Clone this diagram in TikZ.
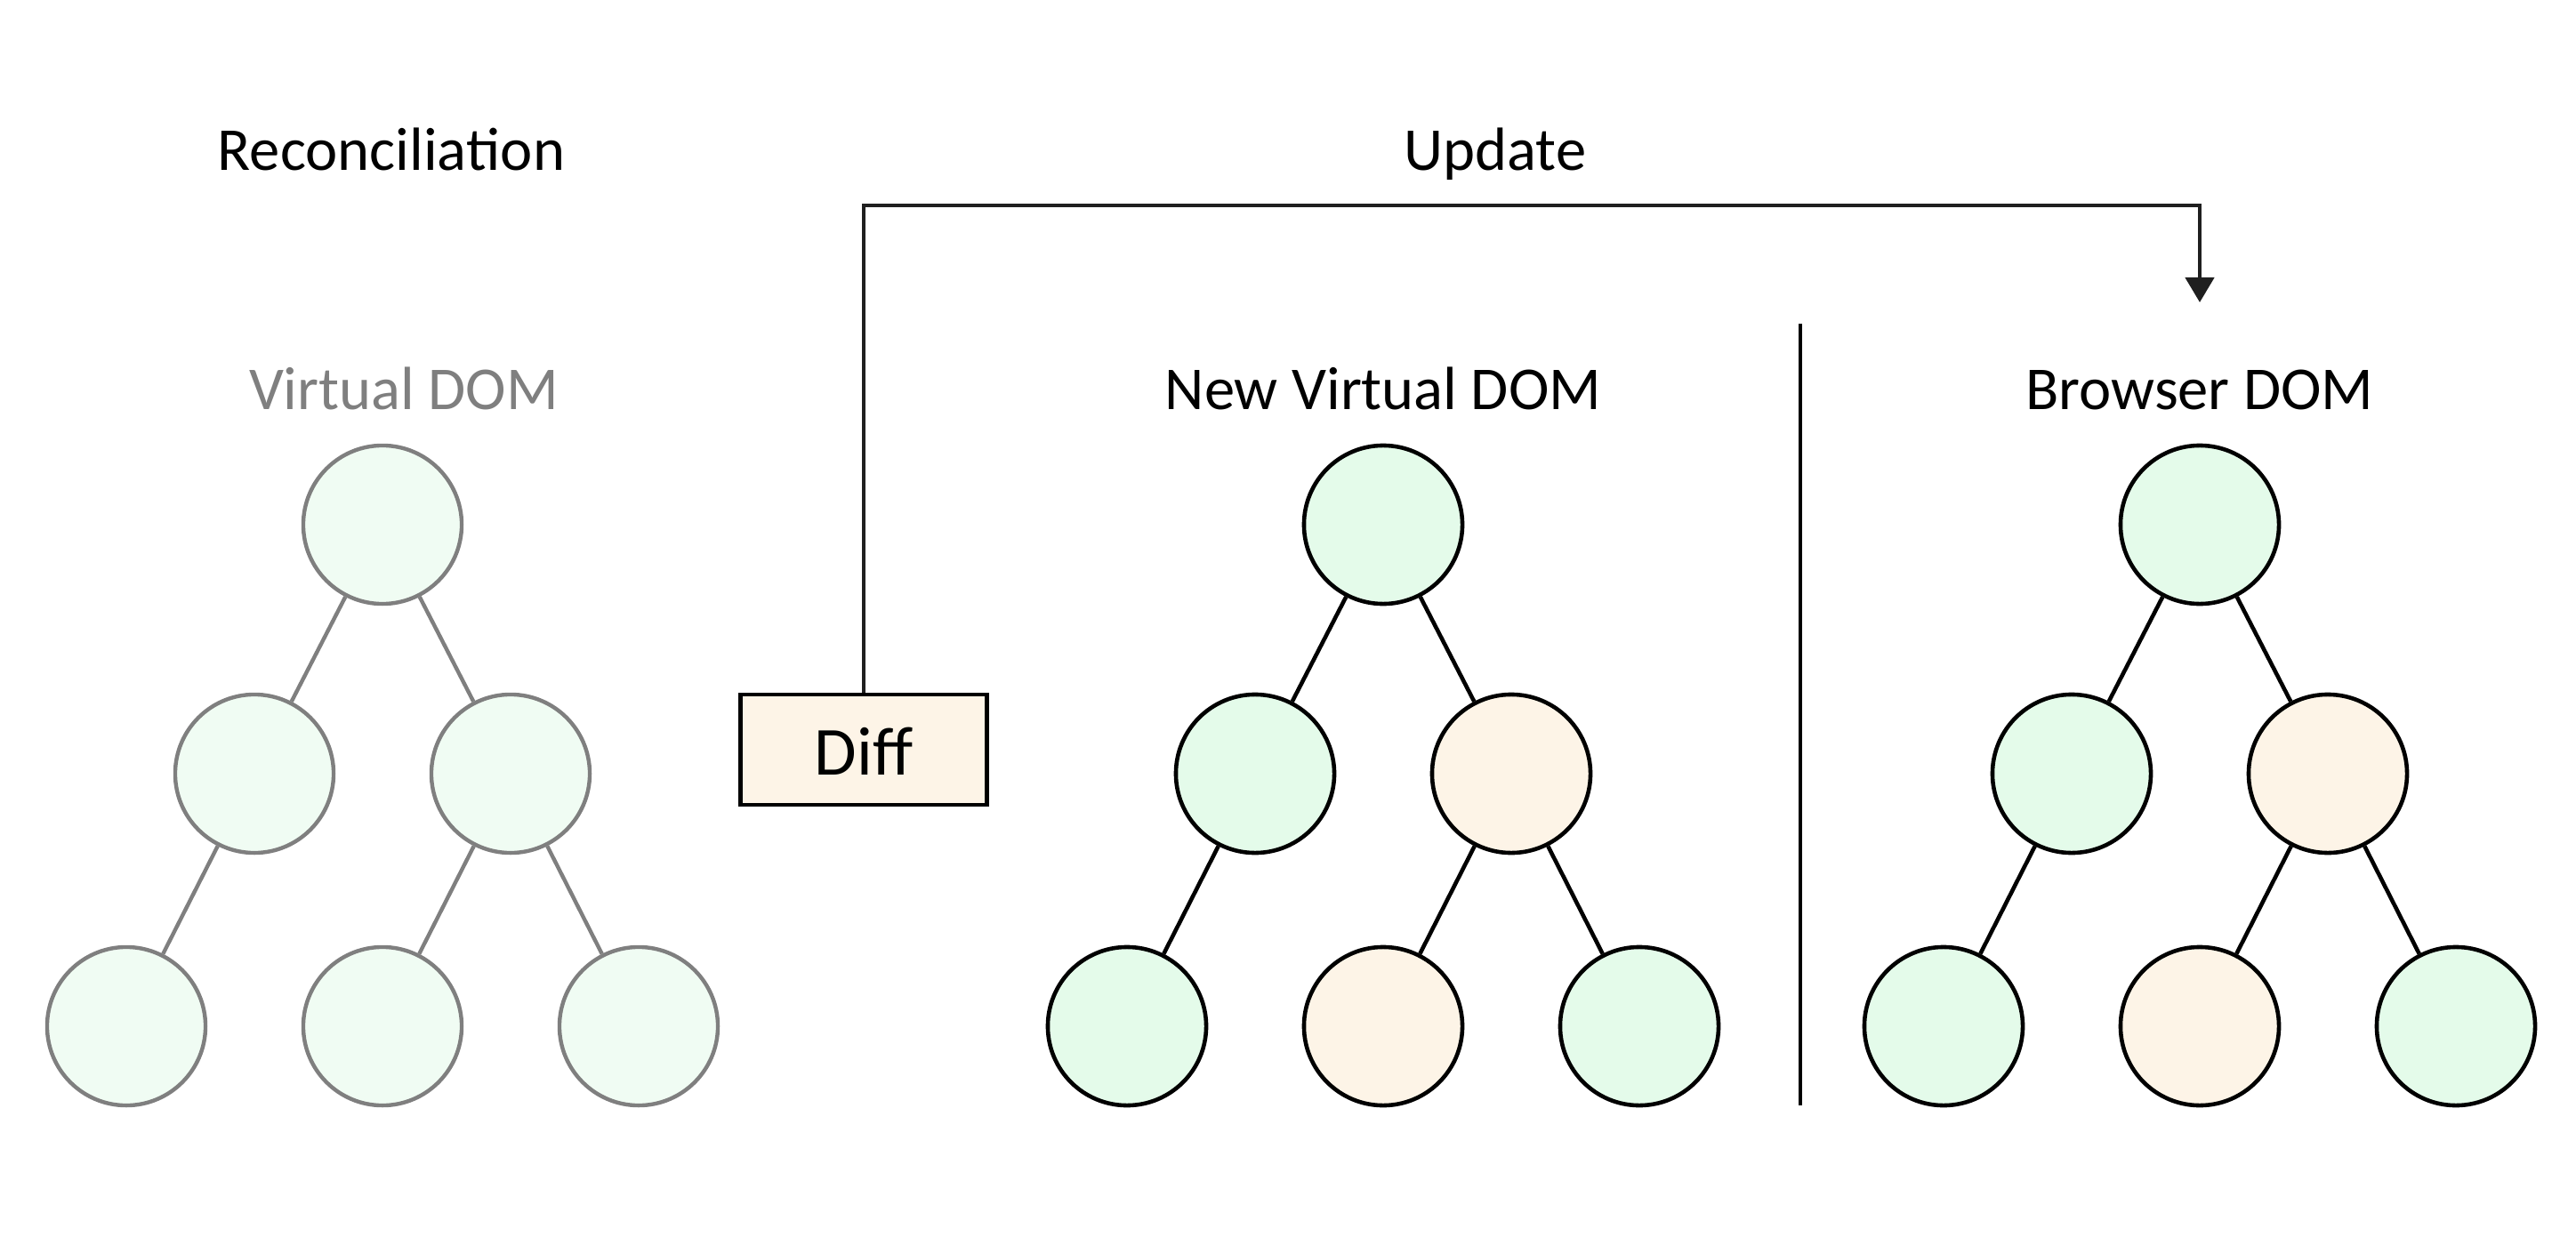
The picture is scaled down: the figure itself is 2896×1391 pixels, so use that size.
\documentclass[tikz,border=0pt]{standalone}
\usepackage{fontspec}
\setmainfont{Carlito}
\usetikzlibrary{arrows.meta}
\definecolor{grayline}{HTML}{7F7F7F}
\definecolor{lightgreen}{HTML}{F0FCF3}
\definecolor{nodegreen}{HTML}{E4FBEA}
\definecolor{nodepeach}{HTML}{FDF4E7}
\tikzset{
  oldnode/.style={circle, draw=grayline, fill=lightgreen, line width=1.25pt, minimum size=1.78cm, inner sep=0pt},
  gnode/.style={circle, draw=black, fill=nodegreen, line width=1.3pt, minimum size=1.78cm, inner sep=0pt},
  pnode/.style={circle, draw=black, fill=nodepeach, line width=1.3pt, minimum size=1.78cm, inner sep=0pt},
  oldedge/.style={draw=grayline, line width=1.25pt},
  edge/.style={draw=black, line width=1.3pt},
  title/.style={font=\fontsize{19.5}{23}\selectfont, inner sep=0pt, anchor=base},
  diffbox/.style={draw=black, fill=nodepeach, line width=1.3pt, minimum width=2.77cm, minimum height=1.24cm, inner sep=0pt},
}
\begin{document}
\begin{tikzpicture}[x=0.01cm, y=-0.01cm]
\useasboundingbox (0,0) rectangle (2896,1391);
% titles
\node[title] (rec) at (440,192) {Reconcilia\kern0pt tion};
\node[title] (upd) at (1681,192) {Update};
\node[title, text=grayline] (vdom) at (454,460) {Virtual DOM};
\node[title] (nvdom) at (1555,460) {New Virtual DOM};
\node[title] (bdom) at (2473,460) {Browser DOM};
% tree 1
\node[oldnode] (a1) at (430,590) {};
\node[oldnode] (a2) at (286,870) {};
\node[oldnode] (a3) at (574,870) {};
\node[oldnode] (a4) at (142,1154) {};
\node[oldnode] (a5) at (430,1154) {};
\node[oldnode] (a6) at (718,1154) {};
\draw[oldedge] (a1) -- (a2);
\draw[oldedge] (a1) -- (a3);
\draw[oldedge] (a2) -- (a4);
\draw[oldedge] (a3) -- (a5);
\draw[oldedge] (a3) -- (a6);
% tree 2
\node[gnode] (b1) at (1555,590) {};
\node[gnode] (b2) at (1411,870) {};
\node[pnode] (b3) at (1699,870) {};
\node[gnode] (b4) at (1267,1154) {};
\node[pnode] (b5) at (1555,1154) {};
\node[gnode] (b6) at (1843,1154) {};
\draw[edge] (b1) -- (b2);
\draw[edge] (b1) -- (b3);
\draw[edge] (b2) -- (b4);
\draw[edge] (b3) -- (b5);
\draw[edge] (b3) -- (b6);
% tree 3
\node[gnode] (c1) at (2473,590) {};
\node[gnode] (c2) at (2329,870) {};
\node[pnode] (c3) at (2617,870) {};
\node[gnode] (c4) at (2185,1154) {};
\node[pnode] (c5) at (2473,1154) {};
\node[gnode] (c6) at (2761,1154) {};
\draw[edge] (c1) -- (c2);
\draw[edge] (c1) -- (c3);
\draw[edge] (c2) -- (c4);
\draw[edge] (c3) -- (c5);
\draw[edge] (c3) -- (c6);
% separator
\coordinate (s1) at (2024,364);
\coordinate (s2) at (2024,1243);
\draw[line width=1.2pt] (s1) -- (s2);
% diff box and update arrow
\node[diffbox] (diff) at (971,843) {};
\node[font=\fontsize{22}{26}\selectfont, inner sep=0pt, anchor=base] (difftext) at (971,871) {Diff};
\coordinate (tip) at (2473,340);
\draw[line width=1.3pt, -{Triangle[length=0.28cm, width=0.32cm]}, color=black!88] (diff.north) |- (1700,231) -| (tip);
\end{tikzpicture}
\end{document}
